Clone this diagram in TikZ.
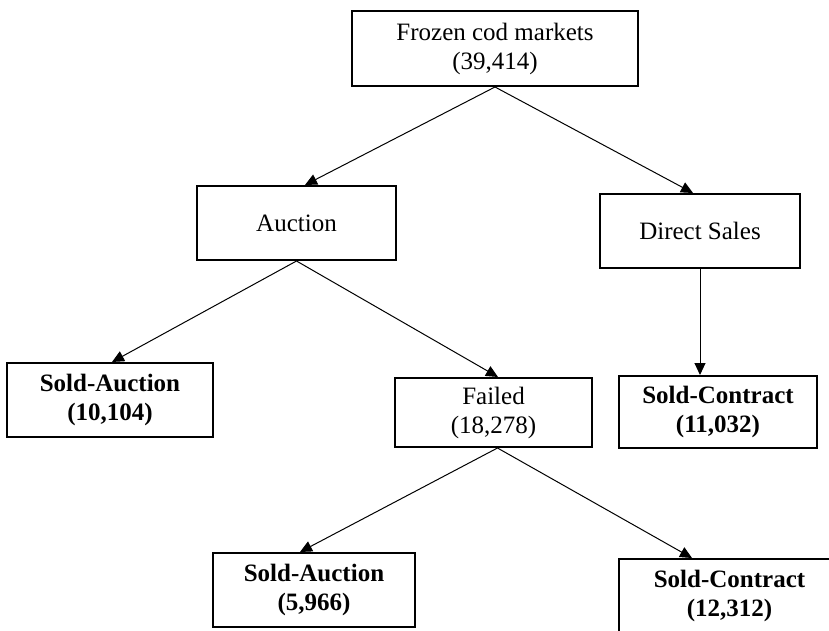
\documentclass[tikz,border=0pt]{standalone}
\usepackage{fontspec}
\setmainfont{Liberation Serif}
\usetikzlibrary{arrows.meta}
\begin{document}
\begin{tikzpicture}[x=1pt,y=-1pt,
  box/.style={draw=black,line width=2pt,fill=white,inner sep=0pt,align=center,
    font=\fontsize{25}{29}\selectfont},
  boldbox/.style={box,font=\fontsize{25}{29}\selectfont\bfseries},
  arr/.style={line width=1pt,-{Triangle[length=12pt,width=11pt]}}]
\useasboundingbox (0,0) rectangle (829,631);
\clip (0,0) rectangle (829,631);
\fill[white] (0,0) rectangle (829,631);
\node[box,minimum width=286pt,minimum height=75pt] (top) at (495,48.5) {Frozen cod markets\\(39,414)};
\node[box,minimum width=199pt,minimum height=74pt] (auction) at (296.5,223) {Auction};
\node[box,minimum width=200pt,minimum height=74pt] (direct) at (700,231) {Direct Sales};
\node[boldbox,minimum width=206pt,minimum height=74pt] (soldA1) at (110,400) {Sold-Auction\\(10,104)};
\node[box,minimum width=197pt,minimum height=69pt] (failed) at (493.5,412.5) {Failed\\(18,278)};
\node[boldbox,minimum width=198pt,minimum height=72pt] (soldC1) at (718,412) {Sold-Contract\\(11,032)};
\node[boldbox,minimum width=202pt,minimum height=74pt] (soldA2) at (314,590) {Sold-Auction\\(5,966)};
\node[boldbox,minimum width=221pt,minimum height=74pt] (soldC2) at (729.5,596) {Sold-Contract\\(12,312)};
\draw[arr] (top.south) -- ([xshift=8.5pt]auction.north);
\draw[arr] (top.south) -- ([xshift=-7pt]direct.north);
\draw[arr] (auction.south) -- ([xshift=2pt]soldA1.north);
\draw[arr] (auction.south) -- ([xshift=4.5pt]failed.north);
\draw[arr] (direct.south) -- ([xshift=-18pt]soldC1.north);
\draw[arr] ([xshift=4pt]failed.south) -- ([xshift=-14pt]soldA2.north);
\draw[arr] ([xshift=4pt]failed.south) -- ([xshift=-37.5pt]soldC2.north);
\end{tikzpicture}
\end{document}
